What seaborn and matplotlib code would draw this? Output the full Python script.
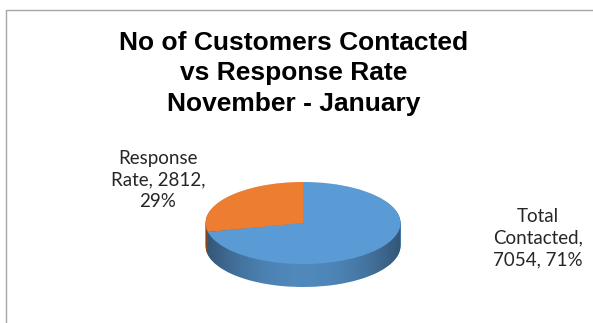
import numpy as np
import matplotlib
matplotlib.use("Agg")
import matplotlib.pyplot as plt
from matplotlib.patches import Rectangle, PathPatch
from matplotlib.path import Path
import seaborn as sns

# data
categories = ["Response Rate", "Total Contacted"]
counts = [2812, 7054]
label_text = ["Response\nRate, 2812,\n29%", "Total\nContacted,\n7054, 71%"]
face_colors = ["#ED7D31", "#5B9BD5"]
title = "No of Customers Contacted\nvs Response Rate\nNovember - January"

sns.set_style("white")
plt.rcParams["font.family"] = ["Liberation Sans", "DejaVu Sans"]

W, H = 593, 323
fig = plt.figure(figsize=(W / 100, H / 100), dpi=100)

def fx(px):
    return px / W

def fy(py):
    return 1 - py / H

# chart border
fig.add_artist(Rectangle((fx(6), -0.05), 1.0, fy(10) + 0.05,
                         transform=fig.transFigure, fill=False,
                         edgecolor="#a6a6a6", linewidth=1))

fig.text(fx(294), fy(31), title, ha="center", va="top", fontsize=19,
         fontweight="bold", linespacing=1.33, color="black")

# pie axes: ellipse face with a bit of depth below it
depth = 0.56
left, right, top, bottom = 205.5, 400.5, 182, 287
ax = fig.add_axes([fx(left), fy(bottom), fx(right - left), (bottom - top) / H])

# side of the 3d pie: stacked layers
for d in np.linspace(depth, 0.02, 30):
    ax.pie(counts, colors=face_colors, startangle=90, counterclock=True,
           center=(0, -d), radius=1, frame=True,
           wedgeprops=dict(linewidth=0, zorder=1))

# shading overlay on the side
t = np.linspace(0, np.pi, 100)
xs = np.concatenate([np.cos(t), np.cos(t + np.pi)])
ys = np.concatenate([np.sin(t), np.sin(t + np.pi) - depth])
side_path = Path(np.column_stack([xs, ys]), closed=False)
gx = np.linspace(-1, 1, 300)
shade = np.zeros((2, 300, 4))
shade[..., 3] = 0.12 + 0.33 * np.abs(gx) ** 2
im = ax.imshow(shade, extent=(-1, 1, -1 - depth, 1), aspect="auto",
               zorder=2, interpolation="bilinear")
patch = PathPatch(side_path, transform=ax.transData,
                  facecolor="none", edgecolor="none")
ax.add_patch(patch)
im.set_clip_path(patch)

# top face
ax.pie(counts, colors=face_colors, startangle=90, counterclock=True,
       center=(0, 0), radius=1, frame=True,
       wedgeprops=dict(linewidth=0, zorder=3))

ax.set_aspect("auto")
ax.set_xlim(-1, 1)
ax.set_ylim(-1 - depth, 1)
ax.axis("off")

# data labels
lab_font = ["Lato", "DejaVu Sans"]
fig.text(fx(158), fy(180), label_text[0], ha="center", va="center",
         fontsize=13.5, linespacing=1.32, color="#262626", family=lab_font)
fig.text(fx(538), fy(238), label_text[1], ha="center", va="center",
         fontsize=13.5, linespacing=1.32, color="#262626", family=lab_font)

fig.savefig("out.png", dpi=100, facecolor="white")
